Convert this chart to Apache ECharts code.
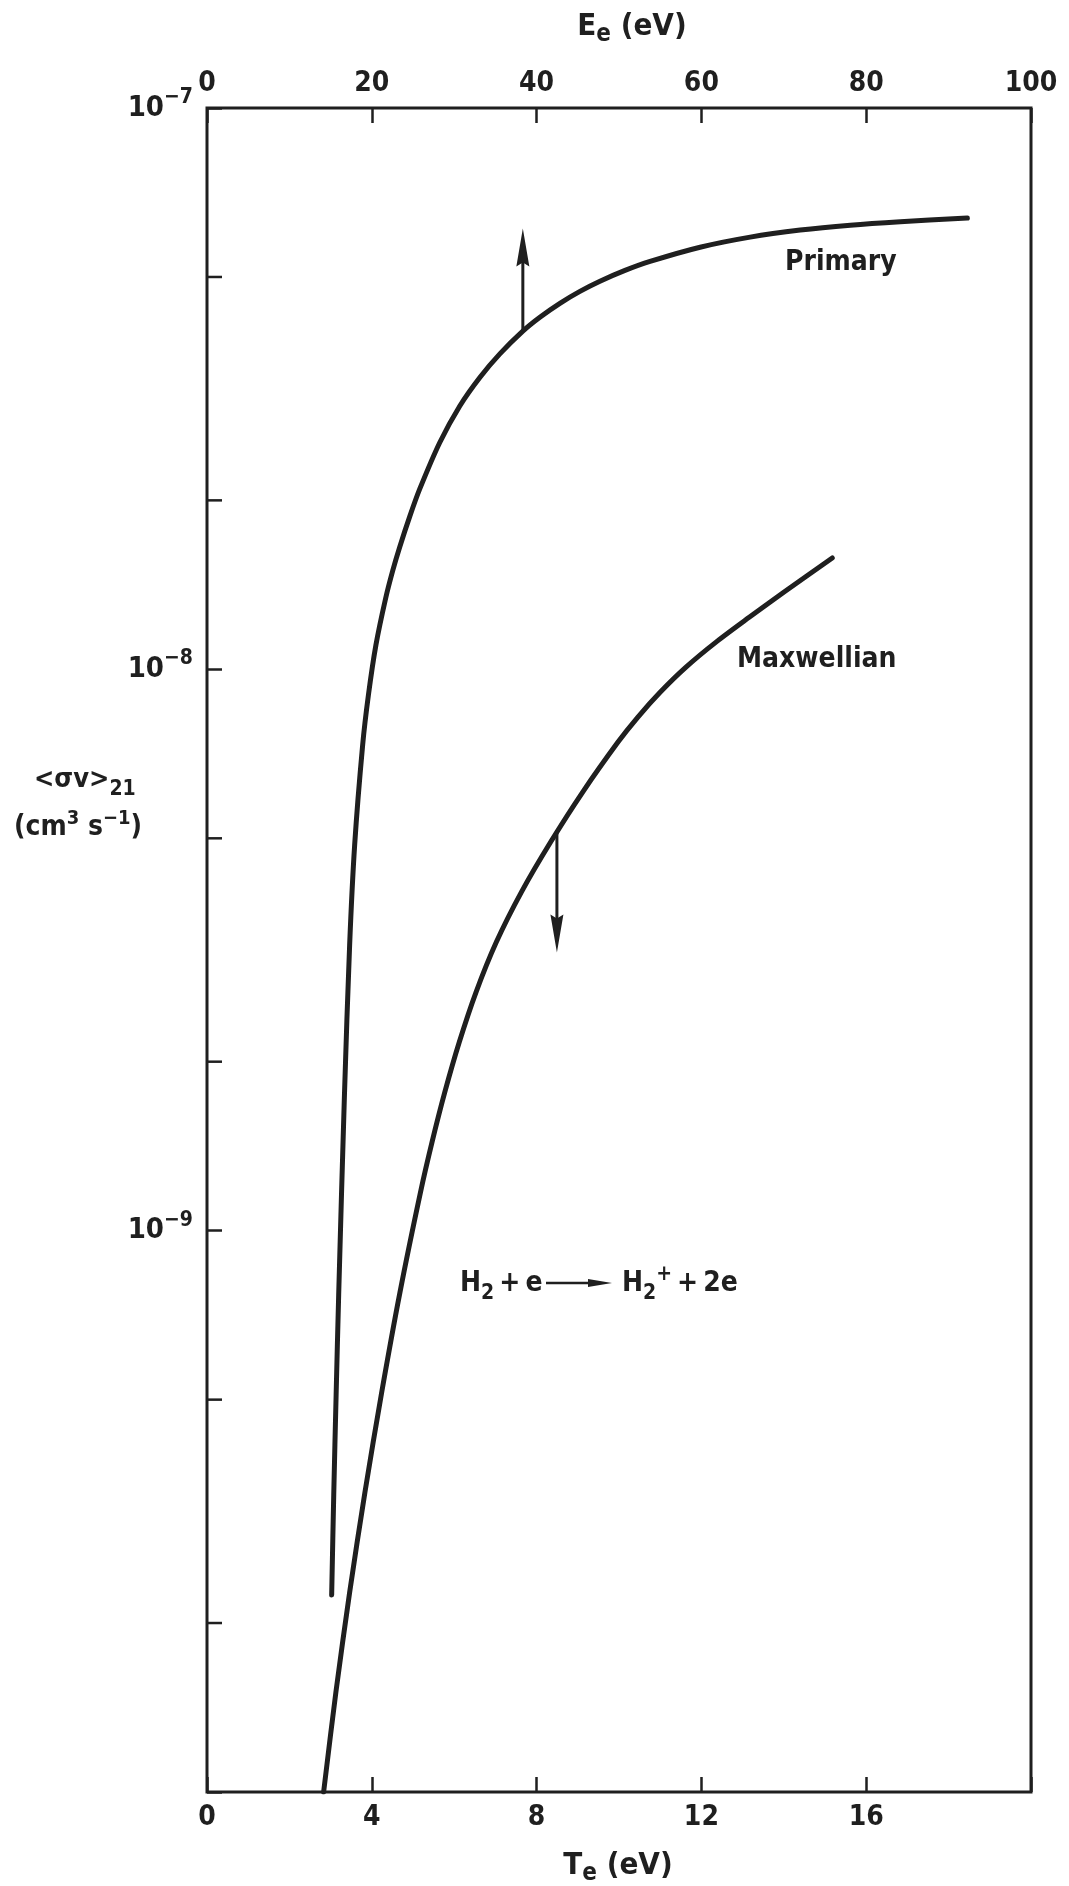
<!DOCTYPE html>
<html><head><meta charset="utf-8">
<script src="https://cdn.jsdelivr.net/npm/echarts@6/dist/echarts.min.js"></script>
<style>html,body{margin:0;padding:0;background:#fff}#c{width:1069px;height:1886px}</style>
</head><body><div id="c"></div>
<script>
// ---- data ----
const eTickLabels = [0, 20, 40, 60, 80, 100];          // top axis: E_e (eV)
const tTickLabels = [0, 4, 8, 12, 16];                 // bottom axis: T_e (eV)
const yDecadeLabels = [1e-7, 1e-8, 1e-9];
const yMinorTicks = [5e-8, 2e-8, 5e-9, 2e-9, 5e-10, 2e-10];

// Primary: rate vs E_e (top axis)
const primaryE = [15.13, 15.38, 15.67, 15.98, 16.68, 17.31, 17.92, 18.89, 19.59, 20.50, 21.69, 22.54, 23.39, 24.61, 25.82, 28.25, 30.68, 33.11, 35.54, 38.33, 40.40, 42.83, 45.26, 47.69, 50.73, 53.77, 59.84, 65.92, 71.99, 78.07, 84.14, 92.28];
const primaryRate = [2.243e-10, 3.380e-10, 5.095e-10, 7.68e-10, 1.744e-9, 3.227e-9, 4.864e-9, 7.33e-9, 9.00e-9, 1.105e-8, 1.340e-8, 1.499e-8, 1.652e-8, 1.873e-8, 2.096e-8, 2.536e-8, 2.946e-8, 3.311e-8, 3.647e-8, 4.004e-8, 4.239e-8, 4.488e-8, 4.713e-8, 4.913e-8, 5.136e-8, 5.329e-8, 5.649e-8, 5.888e-8, 6.060e-8, 6.183e-8, 6.272e-8, 6.368e-8];

// Maxwellian: rate vs T_e (bottom axis)
const maxwellT = [2.831, 3.129, 3.463, 3.834, 4.241, 4.684, 5.182, 5.462, 5.772, 6.124, 6.531, 7.023, 7.631, 8.341, 9.119, 9.976, 10.459, 11.004, 11.626, 12.355, 13.169, 14.007, 15.176];
const maxwellRate = [1.0e-10, 1.507e-10, 2.270e-10, 3.422e-10, 5.157e-10, 7.77e-10, 1.171e-9, 1.438e-9, 1.765e-9, 2.168e-9, 2.661e-9, 3.267e-9, 4.010e-9, 4.924e-9, 6.045e-9, 7.42e-9, 8.222e-9, 9.11e-9, 1.009e-8, 1.118e-8, 1.239e-8, 1.373e-8, 1.579e-8];

// arrows: [x, rate at curve, rate at tip]
const primaryArrow = [38.33, 4.004e-8, 6.1e-8];
const maxwellArrow = [8.493, 5.126e-9, 3.13e-9];

// ---- chart ----
const FONT = 'DejaVu Sans Condensed';
const INK = '#1f1f1f';
const chart = echarts.init(document.getElementById('c'), null, {renderer: 'canvas'});

function near(v, list) { return list.some(d => Math.abs(Math.log10(v) - Math.log10(d)) < 1e-6); }

function arrowRender(params, api) {
  const x = api.value(0);
  const p1 = api.coord([x, api.value(1)]);
  const p2 = api.coord([x, api.value(2)]);
  const dir = p2[1] > p1[1] ? 1 : -1;
  const headLen = 38, headW = 6.5;
  return {
    type: 'group',
    children: [
      {type: 'line', shape: {x1: p1[0], y1: p1[1], x2: p2[0], y2: p2[1] - dir * 20}, style: {stroke: INK, lineWidth: 3}},
      {type: 'polygon', shape: {points: [[p2[0], p2[1]], [p2[0] - headW, p2[1] - dir * headLen], [p2[0], p2[1] - dir * (headLen - 4)], [p2[0] + headW, p2[1] - dir * headLen]]}, style: {fill: INK}}
    ]
  };
}

const bold = 'bold';
const option = {
  backgroundColor: '#fff',
  animation: false,
  grid: {left: 207, right: 38, top: 108, bottom: 94, show: true, borderColor: INK, borderWidth: 3, backgroundColor: 'transparent'},
  xAxis: [
    {
      type: 'value', position: 'top', min: 0, max: 100, interval: 20,
      axisLine: {show: false}, splitLine: {show: false},
      axisTick: {inside: true, length: 15, lineStyle: {color: INK, width: 2.5}},
      axisLabel: {margin: 10, fontFamily: FONT, fontWeight: bold, fontSize: 28, color: INK,
        formatter: v => eTickLabels.includes(v) ? String(v) : ''}
    },
    {
      type: 'value', position: 'bottom', min: 0, max: 20, interval: 4,
      axisLine: {show: false}, splitLine: {show: false},
      axisTick: {inside: true, length: 15, lineStyle: {color: INK, width: 2.5}},
      axisLabel: {margin: 12, fontFamily: FONT, fontWeight: bold, fontSize: 28, color: INK,
        formatter: v => tTickLabels.includes(v) ? String(v) : ''}
    }
  ],
  yAxis: {
    type: 'log', logBase: 10, min: 1e-10, max: 1e-7,
    axisLine: {show: false}, splitLine: {show: false},
    axisTick: {inside: true, length: 15, lineStyle: {color: INK, width: 2.5}},
    axisLabel: {
      margin: 14, color: INK,
      formatter: v => near(v, yDecadeLabels) ? '{b|10}{s|\u2212' + Math.round(-Math.log10(v)) + '}' : '',
      rich: {
        b: {fontFamily: FONT, fontWeight: bold, fontSize: 29, color: INK, lineHeight: 42},
        s: {fontFamily: FONT, fontWeight: bold, fontSize: 21, color: INK, lineHeight: 21, verticalAlign: 'top'}
      }
    }
  },
  series: [
    {
      name: 'Primary', type: 'line', xAxisIndex: 0, yAxisIndex: 0,
      data: primaryE.map((e, i) => [e, primaryRate[i]]),
      showSymbol: false, symbol: 'none', smooth: 0.3,
      lineStyle: {color: INK, width: 5, cap: 'round'}
    },
    {
      name: 'Maxwellian', type: 'line', xAxisIndex: 1, yAxisIndex: 0,
      data: maxwellT.map((t, i) => [t, maxwellRate[i]]),
      showSymbol: false, symbol: 'none', smooth: 0.3,
      lineStyle: {color: INK, width: 5, cap: 'round'}
    },
    {
      type: 'custom', xAxisIndex: 0, yAxisIndex: 0, silent: true,
      data: yMinorTicks.map(v => [0, v]),
      renderItem: (params, api) => {
        const p = api.coord([0, api.value(1)]);
        return {type: 'line', shape: {x1: p[0], y1: p[1], x2: p[0] + 15, y2: p[1]}, style: {stroke: INK, lineWidth: 2.5}};
      }
    },
    {type: 'custom', xAxisIndex: 0, yAxisIndex: 0, silent: true, data: [primaryArrow], renderItem: arrowRender},
    {type: 'custom', xAxisIndex: 1, yAxisIndex: 0, silent: true, data: [maxwellArrow], renderItem: arrowRender}
  ],
  graphic: [
    {type: 'text', left: 785, top: 249, style: {text: 'Primary', font: 'bold 28px "' + FONT + '"', fill: INK}},
    {type: 'text', left: 737, top: 646, style: {text: 'Maxwellian', font: 'bold 28px "' + FONT + '"', fill: INK}},
    // top axis name
    {type: 'text', x: 632, y: 27, style: {
      text: '{a|E}{s|e}{a| (eV)}', align: 'center', verticalAlign: 'middle',
      rich: {a: {fontFamily: FONT, fontWeight: bold, fontSize: 31, fill: INK, lineHeight: 40},
             s: {fontFamily: FONT, fontWeight: bold, fontSize: 24, fill: INK, lineHeight: 24, verticalAlign: 'bottom'}}}},
    // bottom axis name
    {type: 'text', x: 618, y: 1866, style: {
      text: '{a|T}{s|e}{a| (eV)}', align: 'center', verticalAlign: 'middle',
      rich: {a: {fontFamily: FONT, fontWeight: bold, fontSize: 31, fill: INK, lineHeight: 40},
             s: {fontFamily: FONT, fontWeight: bold, fontSize: 24, fill: INK, lineHeight: 24, verticalAlign: 'bottom'}}}},
    // y axis name
    {type: 'text', x: 34, y: 780, style: {
      text: '{a|<\u03c3v>}{s|21}', align: 'left', verticalAlign: 'middle',
      rich: {a: {fontFamily: FONT, fontWeight: bold, fontSize: 27, fill: INK, lineHeight: 40},
             s: {fontFamily: FONT, fontWeight: bold, fontSize: 21, fill: INK, lineHeight: 21, verticalAlign: 'bottom'}}}},
    {type: 'text', x: 14, y: 828, style: {
      text: '{a|(cm}{s|3}{a| s}{s|\u22121}{a|)}', align: 'left', verticalAlign: 'middle',
      rich: {a: {fontFamily: FONT, fontWeight: bold, fontSize: 28, fill: INK, lineHeight: 38},
             s: {fontFamily: FONT, fontWeight: bold, fontSize: 20, fill: INK, lineHeight: 20, verticalAlign: 'top'}}}},
    // reaction equation
    {type: 'text', x: 460, y: 1284, style: {
      text: '{a|H}{s|2}{a|\u2009+\u2009e}', align: 'left', verticalAlign: 'middle',
      rich: {a: {fontFamily: FONT, fontWeight: bold, fontSize: 28, fill: INK, lineHeight: 40},
             s: {fontFamily: FONT, fontWeight: bold, fontSize: 21, fill: INK, lineHeight: 21, verticalAlign: 'bottom'}}}},
    {type: 'line', shape: {x1: 546, y1: 1283, x2: 596, y2: 1283}, style: {stroke: INK, lineWidth: 2.5}},
    {type: 'polygon', shape: {points: [[612, 1283], [588, 1279], [588, 1287]]}, style: {fill: INK}},
    {type: 'text', x: 622, y: 1284, style: {
      text: '{a|H}{s|2}{p|+}{a|\u2009+\u20092e}', align: 'left', verticalAlign: 'middle',
      rich: {a: {fontFamily: FONT, fontWeight: bold, fontSize: 28, fill: INK, lineHeight: 40},
             s: {fontFamily: FONT, fontWeight: bold, fontSize: 21, fill: INK, lineHeight: 21, verticalAlign: 'bottom'},
             p: {fontFamily: FONT, fontWeight: bold, fontSize: 21, fill: INK, lineHeight: 21, verticalAlign: 'top'}}}}
  ]
};
chart.setOption(option);
</script>
</body></html>
